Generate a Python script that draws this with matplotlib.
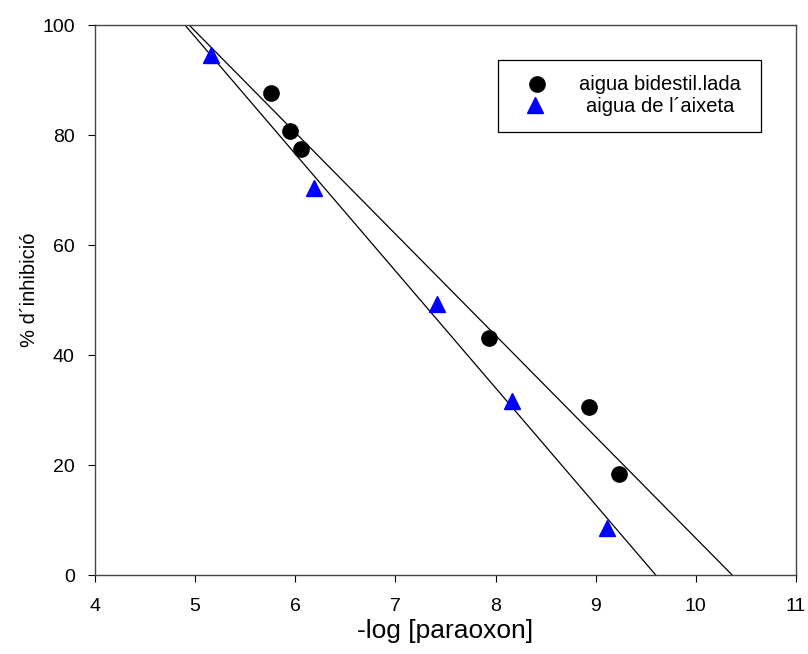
import numpy as np
import matplotlib
matplotlib.use("Agg")
import matplotlib.pyplot as plt
from matplotlib.patches import Rectangle

plt.rcParams['font.family'] = ['Liberation Sans', 'DejaVu Sans']

# Data
bidest_x = [5.757, 5.947, 6.057, 7.934, 8.93, 9.23]
bidest_y = [87.6, 80.7, 77.5, 43.1, 30.5, 18.4]
aixeta_x = [5.16, 6.19, 7.415, 8.165, 9.11]
aixeta_y = [94.5, 70.4, 49.3, 31.6, 8.5]
labels = ['aigua bidestil.lada', 'aigua de l\u00b4aixeta']
xticks = [4, 5, 6, 7, 8, 9, 10, 11]
yticks = [0, 20, 40, 60, 80, 100]

W, H = 808, 654
L, R, T, B = 95, 796, 25, 575
fig = plt.figure(figsize=(W/100, H/100), dpi=100)
ax = fig.add_axes([L/W, 1-B/H, (R-L)/W, (B-T)/H])

def ax_xy(px, py):
    return (px-L)/(R-L), (B-py)/(B-T)

xs = np.linspace(4, 11, 200)
for x, y in [(bidest_x, bidest_y), (aixeta_x, aixeta_y)]:
    m, b = np.polyfit(x, y, 1)
    ax.plot(xs, m*xs + b, color='black', lw=0.9, zorder=2)

ax.plot(bidest_x, bidest_y, 'o', color='black', ms=11, ls='none', zorder=3)
ax.plot(aixeta_x, aixeta_y, '^', color='#0000ff', ms=12, ls='none', zorder=3)

ax.set_xlim(4, 11)
ax.set_ylim(0, 100)
ax.set_xticks(xticks)
ax.set_yticks(yticks)
ax.tick_params(direction='out', length=5, width=0.8, labelsize=14, colors='black')
ax.tick_params(axis='x', pad=11.5)
ax.tick_params(axis='y', pad=9.5)
for s in ax.spines.values():
    s.set_color('#444444')
    s.set_linewidth(1.0)

ax.set_xlabel('-log [paraoxon]', fontsize=19)
ax.xaxis.set_label_coords(0.5, ax_xy(0, 619)[1])
ax.set_ylabel('% d\u00b4inhibició', fontsize=14.5)
ax.yaxis.set_label_coords(ax_xy(39, 0)[0], ax_xy(0, 290)[1])

# Legend (drawn manually so that the labels are centred as in the reference)
x0, y0 = ax_xy(498, 132)
x1, y1 = ax_xy(761, 60)
ax.add_patch(Rectangle((x0, y0), x1-x0, y1-y0, transform=ax.transAxes,
                       facecolor='white', edgecolor='black', lw=0.9,
                       zorder=4, clip_on=False))
mx, my = ax_xy(537, 84)
ax.plot([mx], [my], 'o', color='black', ms=11, transform=ax.transAxes,
        clip_on=False, zorder=5)
mx, my = ax_xy(535, 105)
ax.plot([mx], [my], '^', color='#0000ff', ms=12, transform=ax.transAxes,
        clip_on=False, zorder=5)
for lab, py in zip(labels, [85, 107]):
    tx, ty = ax_xy(660, py)
    ax.text(tx, ty, lab, transform=ax.transAxes, ha='center', va='center',
            fontsize=14.5, zorder=5)

fig.savefig('out.png', dpi=100)
